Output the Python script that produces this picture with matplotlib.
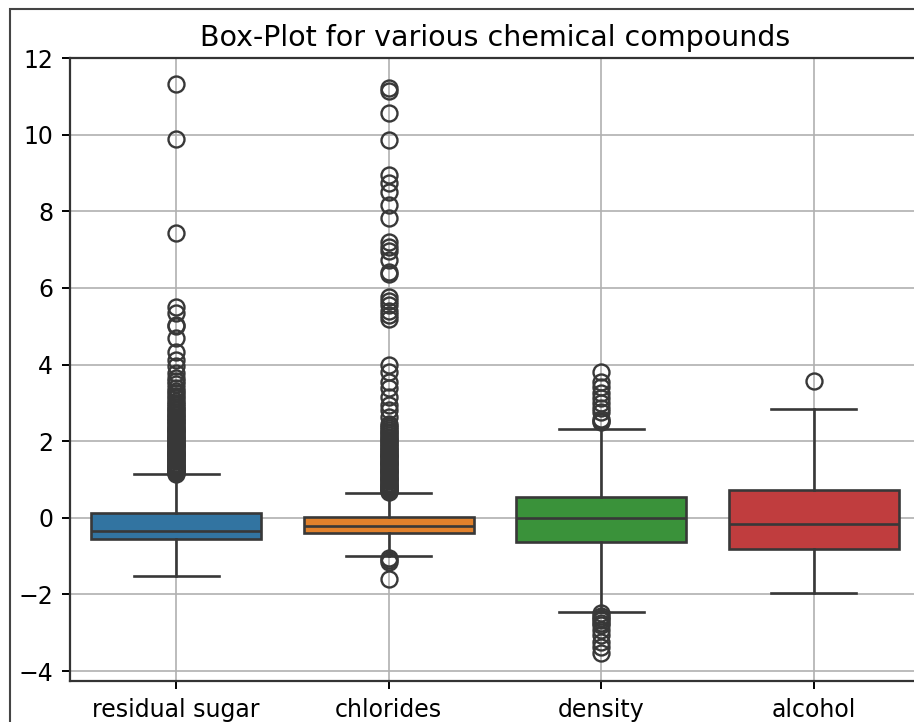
import matplotlib
matplotlib.use("Agg")
import matplotlib.pyplot as plt
from matplotlib.patches import Rectangle

categories = ["residual sugar", "chlorides", "density", "alcohol"]
medians = [-0.34, -0.21, 0.0, -0.16]
q1 = [-0.56, -0.39, -0.64, -0.82]
q3 = [0.12, 0.02, 0.55, 0.73]
whislo = [-1.52, -1.0, -2.45, -1.97]
whishi = [1.13, 0.64, 2.31, 2.84]

fliers_sugar = [1.15, 1.17, 1.2, 1.22, 1.25, 1.28, 1.3, 1.33, 1.36, 1.38, 1.41, 1.44,
                1.47, 1.5, 1.52, 1.55, 1.58, 1.61, 1.64, 1.66, 1.69, 1.72, 1.75, 1.78,
                1.81, 1.84, 1.87, 1.9, 1.93, 1.96, 1.99, 2.02, 2.05, 2.08, 2.11, 2.14,
                2.17, 2.2, 2.23, 2.26, 2.29, 2.32, 2.35, 2.38, 2.42, 2.45, 2.49, 2.52,
                2.56, 2.6, 2.64, 2.68, 2.72, 2.76, 2.8, 2.85, 2.9, 2.95, 3.0, 3.06,
                3.12, 3.18, 3.25, 3.32, 3.4, 3.48, 3.56, 3.65, 3.78, 3.95, 4.12,
                4.33, 4.69, 5.0, 5.03, 5.34, 5.5, 7.43, 9.88, 11.33]
fliers_chlor = [-1.6, -1.15, -1.1, -1.05, 0.67, 0.7, 0.72, 0.75, 0.78, 0.8, 0.83, 0.86,
                0.89, 0.92, 0.95, 0.98, 1.01, 1.04, 1.07, 1.1, 1.13, 1.16, 1.19, 1.22,
                1.25, 1.28, 1.31, 1.34, 1.37, 1.4, 1.43, 1.46, 1.49, 1.52, 1.55, 1.58,
                1.61, 1.64, 1.67, 1.7, 1.73, 1.76, 1.8, 1.84, 1.88, 1.92, 1.96, 2.0,
                2.04, 2.08, 2.12, 2.16, 2.2, 2.25, 2.3, 2.35, 2.4, 2.45, 2.63, 2.81,
                2.95, 3.15, 3.38, 3.54, 3.8, 3.99,
                5.2, 5.3, 5.4, 5.55, 5.65, 5.75, 6.35, 6.41, 6.73, 6.95, 7.08, 7.21,
                7.82, 8.16, 8.51, 8.73, 8.95, 9.86, 10.56, 11.15, 11.23]
fliers_dens = [-3.54, -3.36, -3.23, -3.06, -2.93, -2.8, -2.75, -2.68, -2.62, -2.56,
               -2.49, 2.5, 2.53, 2.58, 2.77, 2.86, 2.99, 3.12, 3.25, 3.42, 3.55, 3.8]
fliers_alc = [3.58]

colors = ["#3274a1", "#e1812c", "#3a923a", "#c03d3e"]
line_c = "#383838"

fig = plt.figure(figsize=(9.14, 7.22), dpi=100)
ax = fig.add_axes([70 / 914, 41 / 722, 850 / 914, 623 / 722])

fliers = [fliers_sugar, fliers_chlor, fliers_dens, fliers_alc]
stats = []
for i, name in enumerate(categories):
    stats.append(dict(label=name, med=medians[i], q1=q1[i], q3=q3[i],
                      whislo=whislo[i], whishi=whishi[i], fliers=fliers[i]))

bp = ax.bxp(stats, positions=range(len(categories)), widths=0.8,
            patch_artist=True, showfliers=True,
            boxprops=dict(linewidth=1.9, edgecolor=line_c),
            medianprops=dict(color=line_c, linewidth=1.9),
            whiskerprops=dict(color=line_c, linewidth=1.9),
            capprops=dict(color=line_c, linewidth=1.9),
            flierprops=dict(marker="o", markerfacecolor="none",
                            markeredgecolor=line_c, markersize=11.5,
                            markeredgewidth=1.7),
            capwidths=0.4)
for patch, c in zip(bp["boxes"], colors):
    patch.set_facecolor(c)

ax.set_xlim(-0.5, 3.5)
ax.set_ylim(-4.26, 12.0)
ax.set_yticks([-4, -2, 0, 2, 4, 6, 8, 10, 12])
ax.set_xticks(range(len(categories)))
ax.set_xticklabels(categories)
ax.grid(True, color="#b0b0b0", linewidth=1.2)
ax.set_axisbelow(True)
for s in ax.spines.values():
    s.set_linewidth(1.6)
    s.set_color("#333333")
ax.tick_params(labelsize=17, length=6, width=1.4, pad=6)
ax.set_title("Box-Plot for various chemical compounds", fontsize=20.5, pad=9)

fig.patches.append(Rectangle((10 / 914, -0.1), 1.2, (722 - 9) / 722 + 0.1,
                             transform=fig.transFigure, fill=False,
                             edgecolor="#444444", linewidth=1.5, zorder=10))

fig.savefig("out.png", dpi=100)
